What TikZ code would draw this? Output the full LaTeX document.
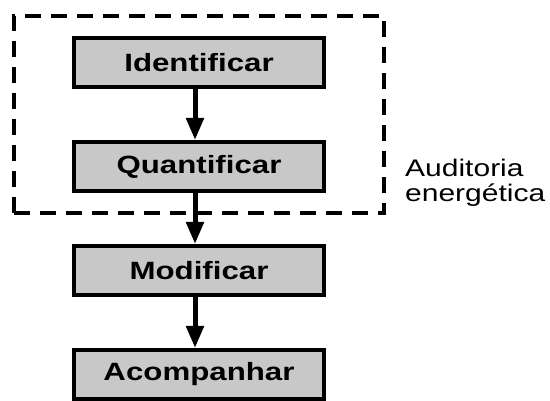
\documentclass[tikz,border=0pt]{standalone}
\usepackage{fontspec}
\setmainfont{Liberation Sans}[FakeStretch=1.25]
\usetikzlibrary{arrows.meta, positioning, fit}
\definecolor{boxgray}{RGB}{200,200,200}

\begin{document}
\begin{tikzpicture}[
        node distance=51pt,
        box/.style={rectangle, draw=black, line width=4pt, fill=boxgray, minimum width=250pt, minimum height=49pt, font=\fontsize{25}{30}\selectfont\bfseries},
        arrow/.style={-{Triangle[width=17pt, length=22pt]}, line width=5pt},
        group/.style={draw=black, line width=3.5pt, dash pattern=on 16pt off 10pt, inner xsep=58pt, inner ysep=20pt}
    ]
        \useasboundingbox (0,0) rectangle (550pt,-401pt);
        \node[box] (identify) at (199pt,-62.5pt) {Identificar};
        \node[box, below=of identify] (quantify) {Quantificar};
        \node[box, below=of quantify] (modify) {Modificar};
        \node[box, below=of modify] (follow) {Acompanhar};

        \node[group, fit=(identify)(quantify)] (audit) {};
        \node[align=left, anchor=west, inner sep=0pt, font=\fontsize{24}{25}\selectfont] (auditlabel) at (405pt,-183pt) {Auditoria\\energética};

        \draw[arrow] ([xshift=-4pt]identify.south) -- ([xshift=-4pt]quantify.north);
        \draw[arrow] ([xshift=-4pt]quantify.south) -- ([xshift=-4pt]modify.north);
        \draw[arrow] ([xshift=-4pt]modify.south) -- ([xshift=-4pt]follow.north);
    \end{tikzpicture}
\end{document}
